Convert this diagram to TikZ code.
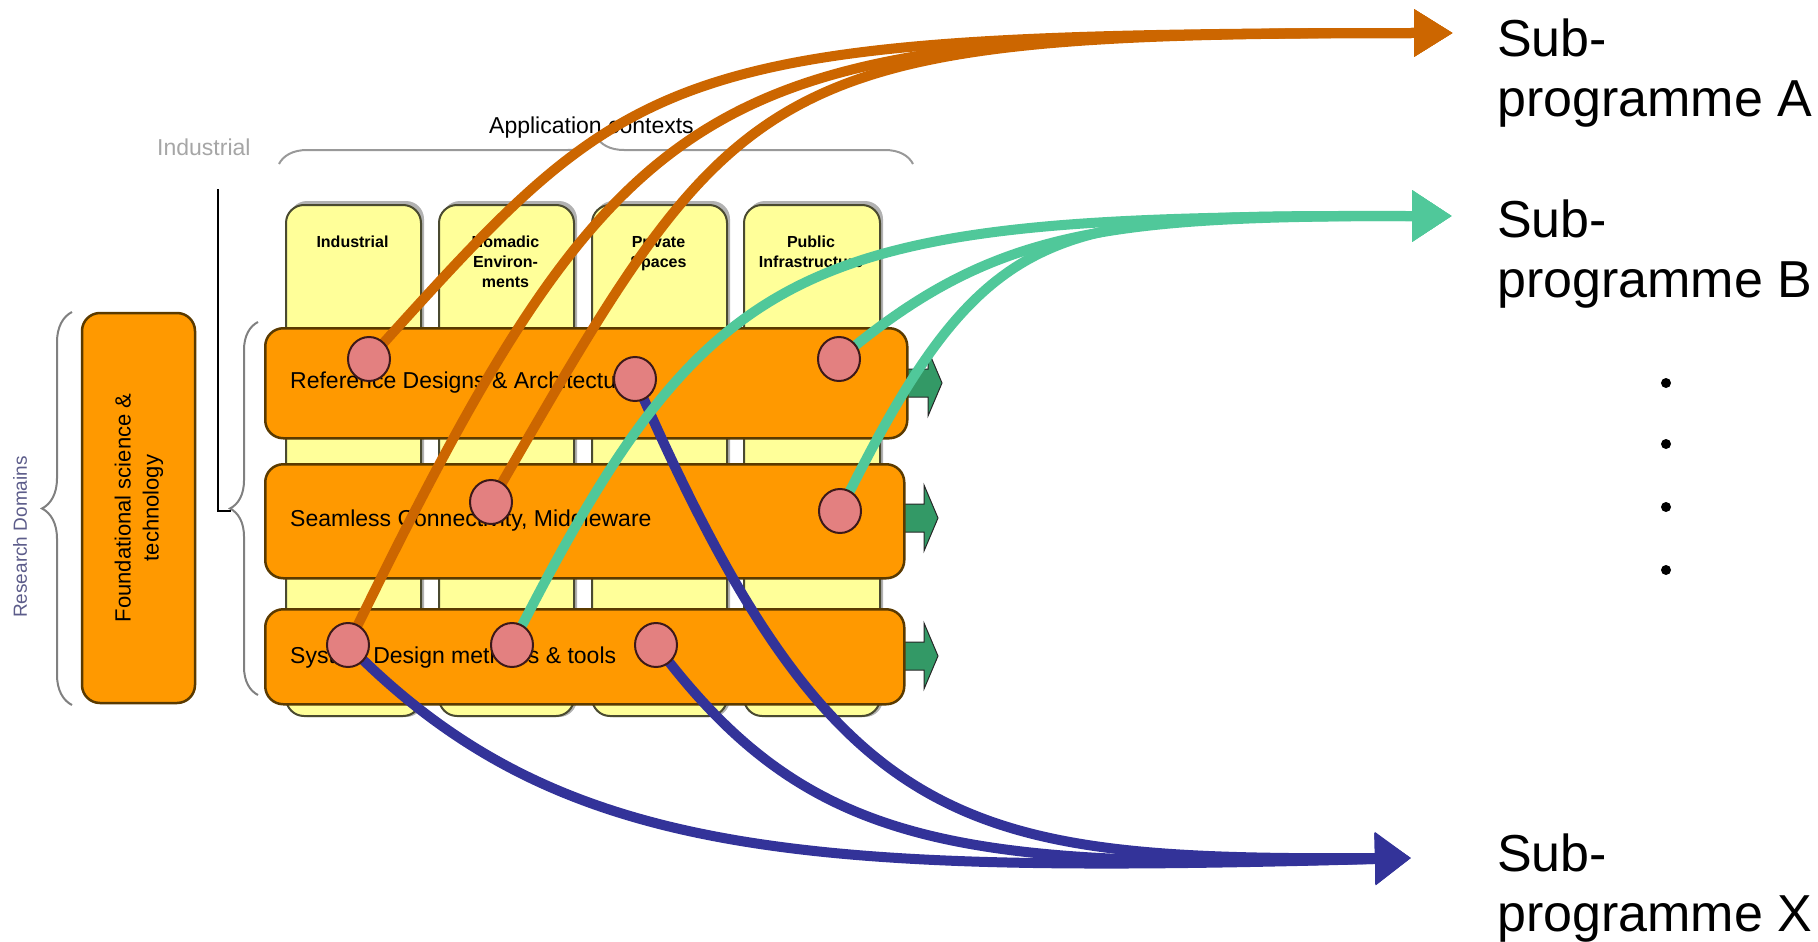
\documentclass[tikz,border=0pt]{standalone}
\usepackage{fontspec}
\setmainfont{Liberation Sans}
\usetikzlibrary{arrows.meta,shapes.geometric,decorations.pathreplacing}
\definecolor{rowor}{HTML}{FF9900}
\definecolor{colye}{HTML}{FFFF99}
\definecolor{arrOr}{HTML}{CC6600}
\definecolor{arrTe}{HTML}{50C89A}
\definecolor{arrNa}{HTML}{333399}
\definecolor{grn}{HTML}{339966}
\definecolor{pinkc}{HTML}{E38080}
\definecolor{pinkedge}{HTML}{3C1919}
\definecolor{rowedge}{HTML}{5A3A00}
\definecolor{bracegray}{HTML}{808080}
\definecolor{resblue}{HTML}{5C5C8A}
\definecolor{coledge}{HTML}{4A4A30}
\begin{document}
\begin{tikzpicture}[x=1pt,y=-1pt,
  colbox/.style={fill=colye, draw=coledge, line width=2pt, rounded corners=18pt, anchor=north west, inner sep=0pt},
  colshadow/.style={fill=black!30, rounded corners=18pt},
  rowbox/.style={fill=rowor, draw=rowedge, line width=2.5pt, rounded corners=18pt, anchor=north west, inner sep=0pt},
  greenarr/.style={fill=grn, draw=black!85, line width=1pt},
  pinkdot/.style={ellipse, fill=pinkc, draw=pinkedge, line width=2pt, minimum width=42pt, minimum height=44pt, inner sep=0pt},
  flowA/.style={draw=arrOr, line width=10pt, -{Triangle[length=39pt,width=45pt]}},
  flowB/.style={draw=arrTe, line width=10pt, -{Triangle[length=40pt,width=49pt]}},
  flowX/.style={draw=arrNa, line width=10pt, -{Triangle[length=36pt,width=50pt]}},
  bracestyle/.style={draw=bracegray, line width=2pt, decorate},
  rowlabel/.style={anchor=base west, inner sep=0pt, font=\fontsize{23}{27}\selectfont},
  collabel/.style={anchor=base, inner sep=0pt, font=\fontsize{16}{20}\selectfont\bfseries},
  sublabel/.style={anchor=base west, inner sep=0pt, font=\fontsize{52}{60}\selectfont},
]
\useasboundingbox (0,0) rectangle (1818,942);

% green block arrows (behind rows)
\foreach \yy/\tt in {383/942, 518/938, 656/938}{
  \draw[greenarr] (895,\yy-14) -- (\tt-14,\yy-14) -- (\tt-14,\yy-33) -- (\tt,\yy)
     -- (\tt-14,\yy+33) -- (\tt-14,\yy+14) -- (895,\yy+14) -- cycle;
}

% yellow columns
\foreach \xa/\xb in {285/420, 438/573, 591/726, 743/879}{
  \fill[colshadow] (\xa+4,201) rectangle (\xb+4,717);
}
\node[colbox, minimum width=135pt, minimum height=511pt] (col1) at (285,204) {};
\node[colbox, minimum width=135pt, minimum height=511pt] (col2) at (438,204) {};
\node[colbox, minimum width=135pt, minimum height=511pt] (col3) at (591,204) {};
\node[colbox, minimum width=136pt, minimum height=511pt] (col4) at (743,204) {};

\node[collabel] (l1) at (352.5,247) {\begin{tabular}[t]{@{}c@{}}Industrial\end{tabular}};
\node[collabel] (l2) at (505.5,247) {\begin{tabular}[t]{@{}c@{}}Nomadic\\Environ-\\ments\end{tabular}};
\node[collabel] (l3) at (658.5,247) {\begin{tabular}[t]{@{}c@{}}Private\\Spaces\end{tabular}};
\node[collabel] (l4) at (811,247) {\begin{tabular}[t]{@{}c@{}}Public\\Infrastructure\end{tabular}};

% rows
\node[rowbox, minimum width=642pt, minimum height=110pt] (r1) at (264,327) {};
\node[rowbox, minimum width=639pt, minimum height=114pt] (r2) at (264,463) {};
\node[rowbox, minimum width=639pt, minimum height=95pt] (r3) at (264,608) {};
\node[rowlabel] (t1) at (290,388) {Reference Designs \& Architecture};
\node[rowlabel] (t2) at (290,526) {Seamless Connectivity, Middleware};
\node[rowlabel] (t3) at (290,663) {System Design methods \& tools};

% foundational box
\node[rowbox, anchor=center, minimum width=113pt, minimum height=390pt] (fnd) at (138.5,508) {};
\node[rotate=90, inner sep=0pt, align=center, font=\fontsize{22}{28}\selectfont] (fndt) at (139,508) {Foundational science \&\\technology};

% other labels
\node[anchor=base west, inner sep=0pt, font=\fontsize{23}{27}\selectfont] (appl) at (489,133) {Application contexts};
\node[anchor=base west, inner sep=0pt, text=black!35, font=\fontsize{23}{27}\selectfont] (indus) at (157,155) {Industrial};
\node[rotate=90, inner sep=0pt, text=resblue, font=\fontsize{19}{22}\selectfont] (resd) at (20,537) {Research Domains};

% braces and line
\draw[bracestyle, decoration={brace, amplitude=30pt}] (72,705) -- (72,312);
\draw[bracestyle, decoration={brace, amplitude=28pt}] (258,695) -- (258,322);
\draw[bracestyle, draw=black!40, decoration={brace, amplitude=28pt}] (279,164) -- (913,164);
\coordinate (btip) at (231,511);
\draw[line width=2.5pt] (218,189) -- (218,511) -- (btip);

% circle centres and arrow tips
\coordinate (p11) at (369,359);
\coordinate (p12) at (635,379);
\coordinate (p13) at (839,359);
\coordinate (p22) at (491,502);
\coordinate (p23) at (840,511);
\coordinate (p31) at (348,645);
\coordinate (p32) at (512,645);
\coordinate (p33) at (656,645);
\coordinate (tA) at (1453,33);
\coordinate (tB) at (1452,216);
\coordinate (tX) at (1411,858);

% navy flows
\draw[flowX] (p31) .. controls (558,859) and (800,875) .. (tX);
\draw[flowX] (p33) .. controls (806,845) and (950,870) .. (tX);
\draw[flowX] (p12) .. controls (835,838) and (961,860) .. (tX);
% teal flows
\draw[flowB] (p32) .. controls (716,244) and (802,216) .. (tB);
\draw[flowB] (p13) .. controls (992,230) and (1102,216) .. (tB);
\draw[flowB] (p23) .. controls (989,208) and (1052,216) .. (tB);
% orange flows
\draw[flowA] (p11) .. controls (637,63) and (653,33) .. (tA);
\draw[flowA] (p22) .. controls (741,69) and (753,33) .. (tA);
\draw[flowA] (p31) .. controls (633,61) and (703,33) .. (tA);

% pink circles
\node[pinkdot] (c11) at (p11) {};
\node[pinkdot] (c12) at (p12) {};
\node[pinkdot] (c13) at (p13) {};
\node[pinkdot] (c22) at (p22) {};
\node[pinkdot] (c23) at (p23) {};
\node[pinkdot] (c31) at (p31) {};
\node[pinkdot] (c32) at (p32) {};
\node[pinkdot] (c33) at (p33) {};

% sub-programme labels
\node[sublabel] (sA) at (1497,57) {\begin{tabular}[t]{@{}l@{}}Sub-\\programme A\end{tabular}};
\node[sublabel] (sB) at (1497,237) {\begin{tabular}[t]{@{}l@{}}Sub-\\programme B\end{tabular}};
\node[sublabel] (sX) at (1497,871) {\begin{tabular}[t]{@{}l@{}}Sub-\\programme X\end{tabular}};

% dots
\foreach \yy in {383,444,507,570}{
  \fill (1666,\yy) circle (5pt);
}
\end{tikzpicture}
\end{document}
